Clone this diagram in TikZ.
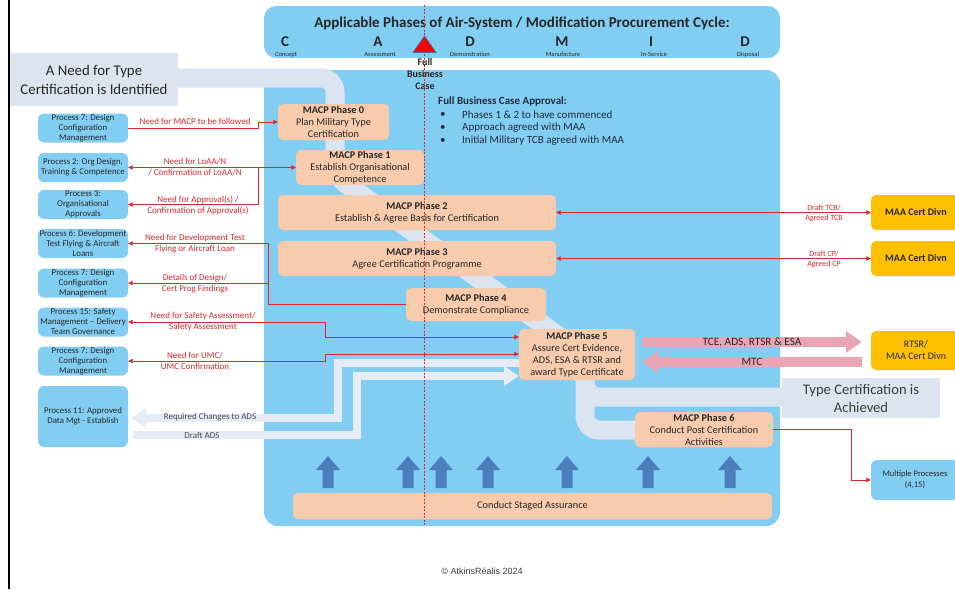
\documentclass[tikz,border=0pt]{standalone}
\usepackage{fontspec}
\setmainfont{Carlito}
\newfontfamily\arialf{Liberation Sans}
\usetikzlibrary{arrows.meta,calc}
\definecolor{panel}{HTML}{82CEF2}
\definecolor{peach}{HTML}{F8CBAD}
\definecolor{lav}{HTML}{DCE4EF}
\definecolor{lavl}{HTML}{E6ECF5}
\definecolor{pinkc}{HTML}{E9A5B3}
\definecolor{orangec}{HTML}{FFC000}
\definecolor{redl}{HTML}{E0262C}
\definecolor{txt}{HTML}{262626}
\definecolor{upblue}{HTML}{4A7EBE}
\definecolor{navy}{HTML}{1F2A3E}
\definecolor{trioutline}{HTML}{41719C}
\tikzset{
 phase/.style={fill=peach, rounded corners=5pt, align=center, text=txt, font=\fontsize{10.3}{12}\selectfont, inner sep=0pt},
 proc/.style={fill=panel, rounded corners=6pt, align=center, text=txt, font=\fontsize{8.8}{10}\selectfont, inner sep=0pt, minimum width=90pt, minimum height=29pt},
 orangebox/.style={fill=orangec, rounded corners=5pt, align=center, text=txt, inner sep=1pt, minimum width=90pt, minimum height=35pt},
 rlabel/.style={text=redl, align=center, font=\fontsize{9}{11}\selectfont, inner sep=0pt},
 smlabel/.style={text=redl, align=center, font=\fontsize{8}{10}\selectfont, inner sep=0pt},
 rline/.style={draw=redl, line width=0.8pt},
 rarr/.style={rline, -{Triangle[length=4.5pt,width=4.5pt]}},
 rboth/.style={rline, {Triangle[length=4.5pt,width=4.5pt]}-{Triangle[length=4.5pt,width=4.5pt]}},
 band/.style={draw=lav, line width=19pt, rounded corners=14pt},
 adsarr/.style={draw=lavl, line width=8pt, -{Triangle[length=15pt,width=19pt]}},
 adslabel/.style={font=\fontsize{9}{10}\selectfont, text=txt!85, inner sep=0pt},
 pinkarr/.style={draw=pinkc, line width=10pt, -{Triangle[length=16pt,width=21pt]}},
 pinklabel/.style={font=\fontsize{11.3}{12}\selectfont, text=txt, inner sep=0pt},
 bigletter/.style={font=\bfseries\fontsize{15}{15}\selectfont, text=txt, inner sep=0pt},
 tinylabel/.style={font=\fontsize{6.5}{6.5}\selectfont, text=txt, inner sep=0pt},
 fbc/.style={font=\fontsize{11}{12}\selectfont, text=navy, inner sep=0pt, anchor=west}
}
\begin{document}
\begin{tikzpicture}[x=1pt,y=-1pt]
\path[use as bounding box] (0,0) rectangle (955,589);
\fill[white] (0,0) rectangle (955,589);
\draw[line width=1.6pt] (9,0) -- (9,589);
% panels
\fill[panel, rounded corners=12pt] (264,6) rectangle (780,58);
\fill[panel, rounded corners=14pt] (264,70) rectangle (780,526);
% lavender flow band
\draw[band] (150,78) -- (335,78) -- (335,176) -- (585,355) -- (585,397) -- (790,397);
\draw[band] (585,380) -- (585,430) -- (645,430);
% need box
\node[fill=lav, minimum width=168pt, minimum height=53pt, align=center, text=txt, font=\fontsize{14.8}{19}\selectfont, inner sep=0pt] (need) at (94,79.5) {A Need for Type\\Certification is Identified};
% type certification achieved box
\node[fill=lav, minimum width=158pt, minimum height=40pt, align=center, text=txt!90, font=\fontsize{14.6}{18}\selectfont, inner sep=0pt] (tca) at (861,398) {Type Certification is\\Achieved};
% title and phase letters
\node[font=\bfseries\fontsize{15}{16}\selectfont, text=txt, inner sep=0pt] (title) at (522,23) {Applicable Phases of Air-System / Modification Procurement Cycle:};
\node[bigletter] (lc) at (285,42) {C};
\node[tinylabel] (tc) at (286,54.5) {Concept};
\node[bigletter] (la) at (378,42) {A};
\node[tinylabel] (ta) at (380,54.5) {Assessment};
\node[bigletter] (ld) at (470,42) {D};
\node[tinylabel] (td) at (470,54.5) {Demonstration};
\node[bigletter] (lm) at (562,42) {M};
\node[tinylabel] (tm) at (563,54.5) {Manufacture};
\node[bigletter] (li) at (651,42) {I};
\node[tinylabel] (ti) at (654,54.5) {In-Service};
\node[bigletter] (ld2) at (745,42) {D};
\node[tinylabel] (td2) at (748,54.5) {Disposal};
\node[font=\bfseries\fontsize{10}{12}\selectfont, text=txt, align=center, inner sep=0pt] (fbcase) at (425,74) {Full\\Business\\Case};
% full business case approval
\node[fbc, font=\bfseries\fontsize{11}{12}\selectfont] (fbca) at (438,102) {Full Business Case Approval:};
\node[fbc] (b1) at (440,114.5) {\textbullet};
\node[fbc] (b1t) at (462,114.5) {Phases 1 \& 2 to have commenced};
\node[fbc] (b2) at (440,127.5) {\textbullet};
\node[fbc] (b2t) at (462,127.5) {Approach agreed with MAA};
\node[fbc] (b3) at (440,140.5) {\textbullet};
\node[fbc] (b3t) at (462,140.5) {Initial Military TCB agreed with MAA};
% up arrows
\foreach \x in {328,408,441,488,567,648,730}
  \fill[upblue] (\x-5.5,488) -- (\x-5.5,470) -- (\x-12,470) -- (\x,456) -- (\x+12,470) -- (\x+5.5,470) -- (\x+5.5,488) -- cycle;
% phase boxes
\node[phase, minimum width=111pt, minimum height=36pt] (ph0) at (333.5,122) {\textbf{MACP Phase 0}\\Plan Military Type\\Certification};
\node[phase, minimum width=128pt, minimum height=35pt] (ph1) at (360,167.5) {\textbf{MACP Phase 1}\\Establish Organisational\\Competence};
\node[phase, minimum width=278pt, minimum height=35pt] (ph2) at (417,212.5) {\textbf{MACP Phase 2}\\Establish \& Agree Basis for Certification};
\node[phase, minimum width=278pt, minimum height=35pt] (ph3) at (417,258.5) {\textbf{MACP Phase 3}\\Agree Certification Programme};
\node[phase, minimum width=140pt, minimum height=33pt] (ph4) at (476,304.5) {\textbf{MACP Phase 4}\\Demonstrate Compliance};
\node[phase, minimum width=116pt, minimum height=51pt] (ph5) at (577,354.5) {\textbf{MACP Phase 5}\\Assure Cert Evidence,\\ADS, ESA \& RTSR and\\award Type Certificate};
\node[phase, minimum width=138pt, minimum height=35pt] (ph6) at (704,429.5) {\textbf{MACP Phase 6}\\Conduct Post Certification\\Activities};
\node[phase, minimum width=479pt, minimum height=26pt] (csa) at (532.5,506) {Conduct Staged Assurance};
% process boxes
\node[proc] (pr7a) at (83,128) {Process 7: Design\\Configuration\\Management};
\node[proc] (pr2) at (83,167.5) {Process 2: Org Design,\\Training \& Competence};
\node[proc] (pr3) at (83,204.5) {Process 3:\\Organisational\\Approvals};
\node[proc] (pr6) at (83,243.5) {Process 6: Development\\Test Flying \& Aircraft\\Loans};
\node[proc] (pr7b) at (83,283) {Process 7: Design\\Configuration\\Management};
\node[proc] (pr15) at (83,322) {Process 15: Safety\\Management -- Delivery\\Team Governance};
\node[proc] (pr7c) at (83,361) {Process 7: Design\\Configuration\\Management};
\node[proc, minimum height=61pt] (pr11) at (83,416.5) {Process 11: Approved\\Data Mgt - Establish};
% right side boxes
\node[orangebox, font=\bfseries\fontsize{10}{11}\selectfont] (maa1) at (916,212.5) {MAA Cert Divn};
\node[orangebox, font=\bfseries\fontsize{10}{11}\selectfont] (maa2) at (916,258.5) {MAA Cert Divn};
\node[orangebox, minimum height=39pt, font=\fontsize{10}{12}\selectfont] (rtsr) at (916,350.5) {RTSR/\\MAA Cert Divn};
\node[proc, minimum width=88pt, minimum height=40pt, font=\fontsize{8.5}{11}\selectfont] (multi) at (915,480) {Multiple Processes\\(4,15)};
% ADS arrows
\coordinate (a1) at (338,418);
\coordinate (a2) at (357,435);
\draw[adsarr] ($(ph5.west)+(0,8.5)$) -| (a1) -- ([xshift=3pt]pr11.east |- a1);
\draw[adsarr] ([xshift=5pt]pr11.east |- a2) -| ($(a2)+(0,-59)$) -- ($(ph5.west)+(0,21.5)$);
\node[adslabel] (rca) at (210,417.5) {Required Changes to ADS};
\node[adslabel] (dads) at (202,435) {Draft ADS};
% red connectors
\coordinate (j0) at (258,122);
\coordinate (j1) at (258,167.5);
\coordinate (j4) at (268,304.5);
\coordinate (j5) at (325,337);
\coordinate (j6) at (325,354);
\coordinate (j7) at (851,480);
\draw[rarr] (pr7a.east) -| (j0) -- (ph0.west);
\draw[rboth] (pr2.east) -- (ph1.west);
\draw[rarr] (j1) |- (pr3.east);
\draw[rarr] (ph4.west) -- (j4) |- (pr6.east);
\draw[rarr] (j4) |- (pr7b.east);
\draw[rboth] (pr15.east) -| (j5) -- (j5 -| ph5.west);
\draw[rboth] (pr7c.east) -| (j6) -- (j6 -| ph5.west);
\draw[rboth] (ph2.east) -- (maa1.west);
\draw[rboth] (ph3.east) -- (maa2.west);
\draw[rarr] (ph6.east) -| (j7) -- (multi.west);
% red labels
\node[rlabel] (l0) at (195,121) {Need for MACP to be followed};
\node[rlabel] (l1) at (195,167) {Need for LoAA/N\\/ Confirmation of LoAA/N};
\node[rlabel] (l2) at (198,205) {Need for Approval(s) /\\Confirmation of Approval(s)};
\node[rlabel] (l3) at (195,243.5) {Need for Development Test\\Flying or Aircraft Loan};
\node[rlabel] (l4) at (195,284) {Details of Design/\\Cert Prog Findings};
\node[rlabel] (l5) at (203,322) {Need for Safety Assessment/\\Safety Assessment};
\node[rlabel] (l6) at (195,361) {Need for UMC/\\UMC Confirmation};
\node[smlabel] (l7) at (824,213) {Draft TCB/\\Agreed TCB};
\node[smlabel] (l8) at (824,259) {Draft CP/\\Agreed CP};
% pink arrows
\draw[pinkarr] ($(ph5.east)+(7,-12.5)$) -- ($(rtsr.west)+(-9,-8.5)$) node[pinklabel, midway] (tce) {TCE, ADS, RTSR \& ESA};
\draw[pinkarr] ($(rtsr.west)+(-9,11.5)$) -- ($(ph5.east)+(7,7.5)$) node[pinklabel, midway] (mtc) {MTC};
% dashed milestone line and triangle
\draw[redl, line width=0.8pt, dash pattern=on 2pt off 1.5pt] (424.5,5) -- (424.5,526);
\fill[red, draw=trioutline, line width=0.8pt] (424.5,36) -- (413,52.5) -- (436,52.5) -- cycle;
% copyright
\node[font=\arialf\fontsize{9}{10}\selectfont, text=txt!90, inner sep=0pt] (copy) at (482,571) {© AtkinsRéalis 2024};
\end{tikzpicture}
\end{document}
